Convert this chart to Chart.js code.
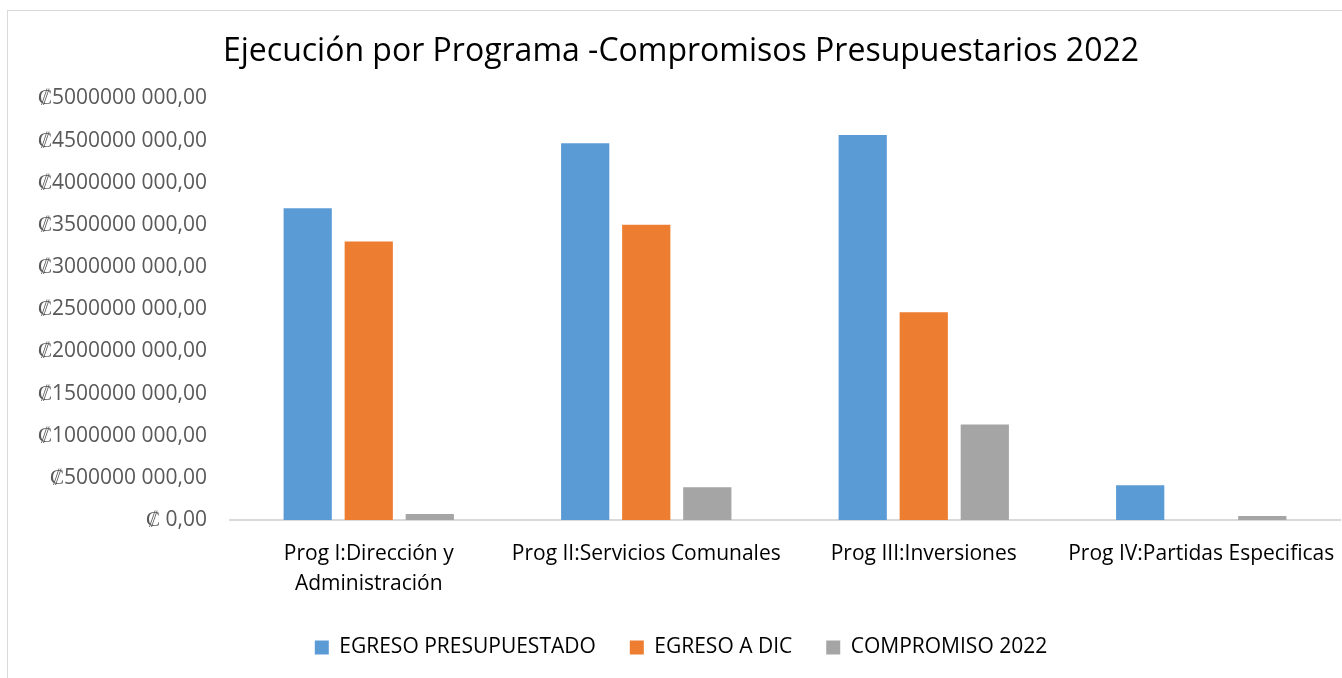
<!DOCTYPE html>
<html>
<head>
<meta charset="utf-8">
<title>Ejecución por Programa</title>
<script src="https://cdn.jsdelivr.net/npm/chart.js@4.4.1/dist/chart.umd.min.js"></script>
<style>
  html, body { margin: 0; padding: 0; background: #fff; overflow: hidden; }
  #wrap { position: relative; width: 1342px; height: 678px; }
  #frame { position: absolute; left: 7px; top: 10px; width: 1400px; height: 700px;
           border: 1px solid #d9d9d9; box-sizing: border-box; pointer-events: none; }
</style>
</head>
<body>
<div id="wrap">
  <canvas id="myChart" width="1342" height="678"></canvas>
  <div id="frame"></div>
</div>
<script>
const programas = [
    ['Prog I:Dirección y', 'Administración'],
    'Prog II:Servicios Comunales',
    'Prog III:Inversiones',
    'Prog IV:Partidas Especificas'
];
const seriesNames = ['EGRESO PRESUPUESTADO', 'EGRESO A DIC', 'COMPROMISO 2022'];
const egresoPresupuestado = [3697000000, 4467000000, 4565000000, 411000000];
const egresoDic = [3302000000, 3503000000, 2464000000, 0];
const compromiso2022 = [71000000, 387000000, 1134000000, 47000000];
const colores = ['#5B9BD5', '#ED7D31', '#A5A5A5'];

// Excel style currency label: ₡5000000 000,00
function colones(v) {
    if (v === 0) return '₡ 0,00';
    const miles = Math.floor(v / 1000);
    const resto = String(v % 1000).padStart(3, '0');
    return '₡' + miles + ' ' + resto + ',00';
}

const ctx = document.getElementById('myChart').getContext('2d');
const valores = [egresoPresupuestado, egresoDic, compromiso2022];

new Chart(ctx, {
    type: 'bar',
    data: {
        labels: programas,
        datasets: seriesNames.map(function (name, i) {
            return {
                label: name,
                data: valores[i],
                backgroundColor: colores[i],
                borderWidth: 0,
                categoryPercentage: 0.66,
                barPercentage: 0.79,
            };
        }),
    },
    options: {
        responsive: false,
        animation: false,
        layout: { padding: { left: 10, right: -10, top: 0, bottom: 10 } },
        plugins: {
            title: {
                display: true,
                text: 'Ejecución por Programa -Compromisos Presupuestarios 2022',
                color: '#000',
                font: { family: 'Open Sans', size: 32, weight: 'normal' },
                padding: { top: 33, bottom: 27 },
            },
            legend: {
                display: true,
                position: 'bottom',
                labels: {
                    color: '#000',
                    font: { family: 'Open Sans', size: 21 },
                    boxWidth: 14,
                    boxHeight: 14,
                    padding: 34,
                },
            },
            tooltip: { enabled: false },
        },
        scales: {
            x: {
                grid: { display: false, drawTicks: false },
                border: { display: true, color: '#d9d9d9', width: 2 },
                ticks: {
                    color: '#000',
                    font: { family: 'Open Sans', size: 21, lineHeight: 1.43 },
                    maxRotation: 0,
                    autoSkip: false,
                    padding: 19,
                },
                afterFit: function (scale) {
                    scale.height = 83;
                    scale.paddingLeft = 0;
                    scale.paddingRight = 2;
                },
            },
            y: {
                min: 0,
                max: 5000000000,
                grid: { display: false, drawTicks: false },
                border: { display: false },
                ticks: {
                    stepSize: 500000000,
                    color: '#595959',
                    font: { family: 'Open Sans', size: 21 },
                    padding: 23,
                    callback: function (v) { return colones(v); },
                },
                afterFit: function (scale) { scale.width = 220; },
            },
        },
    },
});
</script>
</body>
</html>
